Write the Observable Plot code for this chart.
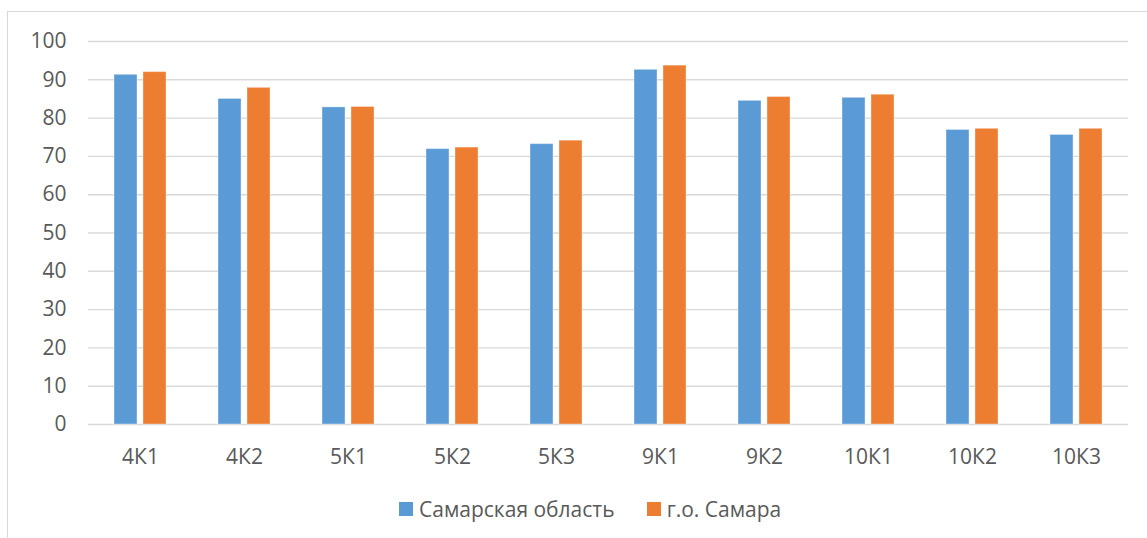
<!DOCTYPE html>
<html>
<head>
<meta charset="utf-8">
<script src="https://cdn.jsdelivr.net/npm/d3@7"></script>
<script src="https://cdn.jsdelivr.net/npm/@observablehq/plot@0.6"></script>
<style>
  html, body { margin: 0; padding: 0; background: #fff; overflow: hidden; }
  #wrap { position: relative; width: 1147px; height: 538px; font-family: "Open Sans", sans-serif; color: #595959; }
  #frame { position: absolute; left: 7px; top: 11px; width: 1300px; height: 700px; border: 1.5px solid #d9d9d9; box-sizing: border-box; }
  #chart { position: absolute; left: 0; top: 0; }
  #chart svg text { font-size: 21px !important; font-family: "Open Sans", sans-serif !important; }
  #legend { position: absolute; left: 399px; top: 494px; height: 30px; display: flex; align-items: center; font-size: 21px; line-height: 30px; white-space: nowrap; }
  .sw { display: inline-block; width: 14px; height: 14px; margin-right: 6px; }
  .item { display: flex; align-items: center; margin-right: 32px; }
</style>
</head>
<body>
<div id="wrap">
  <div id="frame"></div>
  <div id="chart"></div>
  <div id="legend"></div>
</div>
<script>
const categories = ["4К1", "4К2", "5К1", "5К2", "5К3", "9К1", "9К2", "10К1", "10К2", "10К3"];
const seriesNames = ["Самарская область", "г.о. Самара"];
const regionValues = [91.3, 85.0, 82.8, 71.9, 73.2, 92.6, 84.5, 85.3, 76.9, 75.6];
const cityValues   = [92.0, 87.9, 82.9, 72.3, 74.1, 93.7, 85.5, 86.1, 77.2, 77.2];
const yTicks = [0, 10, 20, 30, 40, 50, 60, 70, 80, 90, 100];
const colors = ["#5b9bd5", "#ed7d31"];

const rows = [];
categories.forEach((c, i) => {
  rows.push({cat: c, series: seriesNames[0], value: regionValues[i]});
  rows.push({cat: c, series: seriesNames[1], value: cityValues[i]});
});

const chart = Plot.plot({
  width: 1147,
  height: 480,
  marginLeft: 84,
  marginRight: 16,
  marginTop: 41,
  marginBottom: 56,
  style: {fontFamily: "'Open Sans', sans-serif", fontSize: "21px", color: "#595959", background: "transparent", overflow: "visible"},
  fx: {domain: categories, padding: 0, label: null, tickSize: 0, tickPadding: 25},
  x: {domain: seriesNames, paddingInner: 0.2, paddingOuter: 0.88, axis: null},
  y: {domain: [0, 100], ticks: 10, label: null, tickSize: 0, tickPadding: 22},
  color: {domain: seriesNames, range: colors},
  marks: [
    Plot.ruleY(yTicks, {stroke: "#d9d9d9", strokeWidth: 1.4}),
    Plot.barY(rows, {fx: "cat", x: "series", y: "value", fill: "series", stroke: "#ffffff", strokeOpacity: 0.35, strokeWidth: 1})
  ]
});
document.getElementById("chart").appendChild(chart);

const legend = document.getElementById("legend");
seriesNames.forEach((s, i) => {
  const item = document.createElement("div");
  item.className = "item";
  const sw = document.createElement("span");
  sw.className = "sw";
  sw.style.background = colors[i];
  const t = document.createElement("span");
  t.textContent = s;
  item.appendChild(sw);
  item.appendChild(t);
  legend.appendChild(item);
});
</script>
</body>
</html>
